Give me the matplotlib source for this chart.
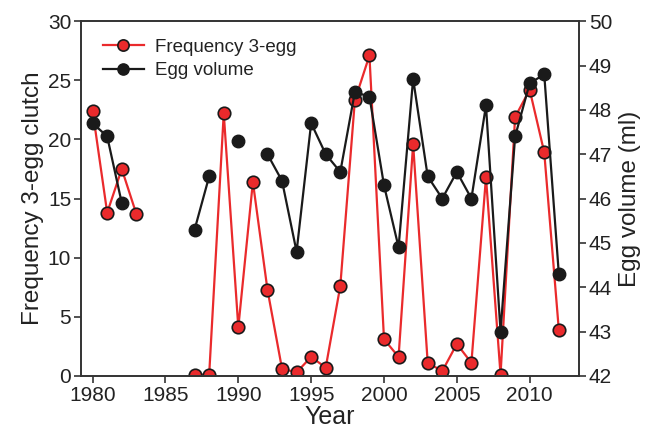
import numpy as np
import matplotlib
matplotlib.use("Agg")
import matplotlib.pyplot as plt

plt.rcParams['font.family'] = ['Liberation Sans', 'DejaVu Sans']

# -- Data ---------------------------------------------------------------
years = np.arange(1980, 2013)
nan = np.nan

freq_3egg = [22.4, 13.8, 17.5, 13.7, nan, nan, nan, 0.1, 0.1, 22.2,
             4.1, 16.4, 7.3, 0.6, 0.3, 1.6, 0.7, 7.6, 23.3, 27.1,
             3.1, 1.6, 19.6, 1.1, 0.4, 2.7, 1.1, 16.8, 0.1, 21.9,
             24.2, 18.9, 3.9]

egg_volume = [47.7, 47.4, 45.9, nan, nan, nan, nan, 45.3, 46.5, nan,
              47.3, nan, 47.0, 46.4, 44.8, 47.7, 47.0, 46.6, 48.4, 48.3,
              46.3, 44.9, 48.7, 46.5, 46.0, 46.6, 46.0, 48.1, 43.0, 47.4,
              48.6, 48.8, 44.3]

x_ticks = [1980, 1985, 1990, 1995, 2000, 2005, 2010]
left_ticks = [0, 5, 10, 15, 20, 25, 30]
right_ticks = [42, 43, 44, 45, 46, 47, 48, 49, 50]

# -- Plot ---------------------------------------------------------------
fig = plt.figure(figsize=(6.53, 4.33), dpi=100)
ax = fig.add_axes([0.124, 0.132, 0.763, 0.819])
ax2 = ax.twinx()

red = '#ea2a2c'
dark = '#1a1a1a'
l1, = ax.plot(years, freq_3egg, '-o', color=red, linewidth=1.6,
              markersize=9, markerfacecolor=red, markeredgecolor=dark,
              markeredgewidth=1.2, label="Frequency 3-egg")
l2, = ax2.plot(years, egg_volume, '-o', color=dark, linewidth=1.6,
               markersize=9, markerfacecolor=dark,
               markeredgecolor=dark, label="Egg volume")

ax.set_xlim(1979.2, 2013.4)
ax.set_ylim(0, 30)
ax2.set_ylim(42, 50)
ax.set_xticks(x_ticks)
ax.set_yticks(left_ticks)
ax2.set_yticks(right_ticks)

for a in (ax, ax2):
    a.tick_params(direction='out', length=5, width=1.2, labelsize=15,
                  color='#333333', labelcolor='#222222', pad=2)
    for s in a.spines.values():
        s.set_linewidth(1.2)
        s.set_color('#333333')

ax.set_xlabel("Year", fontsize=18, labelpad=0, color='#222222')
ax.set_ylabel("Frequency 3-egg clutch", fontsize=17.5, labelpad=3,
              color='#222222')
ax2.set_ylabel("Egg volume (ml)", fontsize=17.5, labelpad=5,
               color='#222222')

leg = ax.legend([l1, l2], ["Frequency 3-egg", "Egg volume"],
                loc='upper left', frameon=False, fontsize=13.5,
                handlelength=2.2, handletextpad=0.6, markerscale=0.9,
                bbox_to_anchor=(0.015, 0.99), borderaxespad=0.35,
                labelspacing=0.32)
for t in leg.get_texts():
    t.set_color('#222222')

fig.savefig("out.png", dpi=100)
